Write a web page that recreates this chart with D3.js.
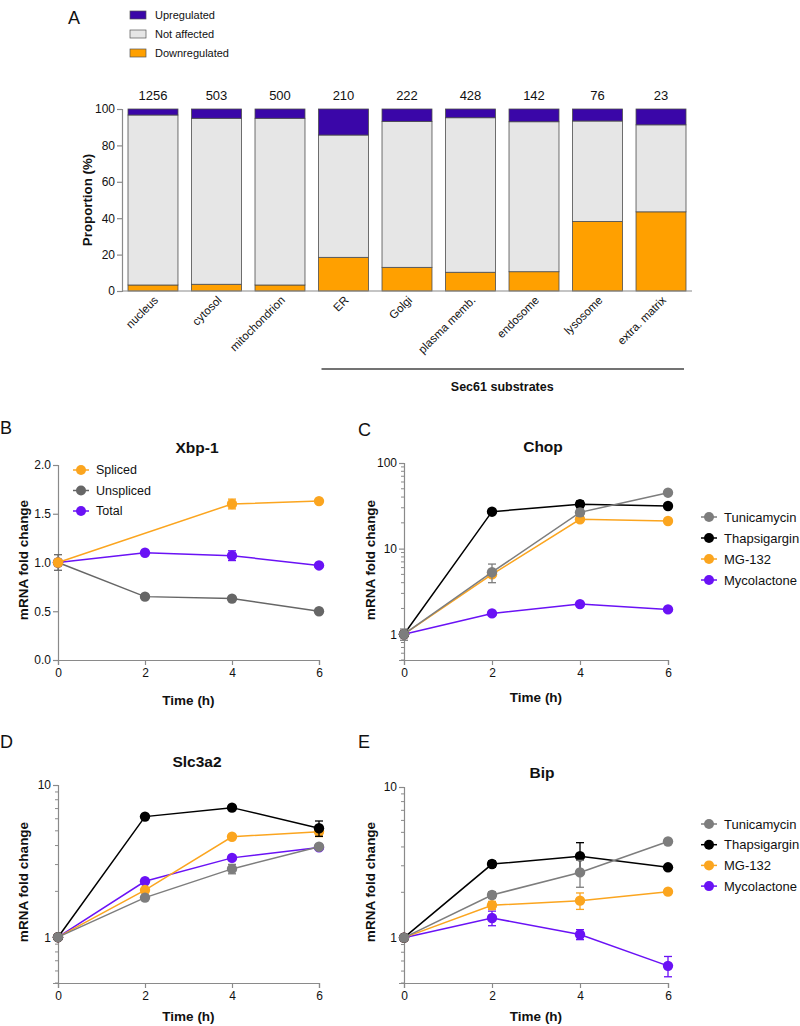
<!DOCTYPE html>
<html><head><meta charset="utf-8">
<script src="https://cdn.jsdelivr.net/npm/d3@7"></script>
<style>
body{margin:0;background:#fff}
svg{display:block}
text{font-family:"Liberation Sans",Arial,Helvetica,sans-serif;fill:#111}
</style>
</head><body>
<svg id="c" width="800" height="1026"></svg>
<script>
// ---------- Panel A data ----------
const barCategories = ["nucleus","cytosol","mitochondrion","ER","Golgi","plasma memb.","endosome","lysosome","extra. matrix"];
const barCounts = [1256,503,500,210,222,428,142,76,23];
const downPct = [3.3,3.7,3.3,18.5,13.0,10.3,10.6,38.2,43.5];
const notAffPct = [93.4,91.2,91.6,67.2,80.2,84.9,82.4,55.2,47.8];
const upPct = [3.3,5.1,5.1,14.3,6.8,4.8,7.0,6.6,8.7];
const barTicks = [0,20,40,60,80,100];
const legendA = ["Upregulated","Not affected","Downregulated"];

// ---------- Line panels data ----------
const timePoints = [0,2,4,6];
// Xbp-1
const xbpSpliced = [1.0,null,1.60,1.63];
const xbpSplicedErr = [0.0,null,0.05,0.02];
const xbpUnspliced = [1.0,0.65,0.63,0.50];
const xbpUnsplicedErr = [0.08,0.01,0.01,0.01];
const xbpTotal = [1.0,1.10,1.07,0.97];
const xbpTotalErr = [0.02,0.02,0.05,0.02];
const xbpTicks = [0,0.5,1.0,1.5,2.0];
// Chop
const chopTunicamycin = [1,5.3,26.5,45];
const chopTunicamycinErr = [0.15,1.3,2.5,1.0];
const chopThapsigargin = [1,27,33,31.5];
const chopThapsigarginErr = [0.05,1.0,3.0,1.5];
const chopMG132 = [1,5.0,22,21];
const chopMG132Err = [0.05,0.3,1.5,1.0];
const chopMycolactone = [1,1.75,2.25,1.95];
const chopMycolactoneErr = [0.02,0.05,0.05,0.05];
const chopTicks = [1,10,100];
// Slc3a2
const slcTunicamycin = [1,1.82,2.81,3.93];
const slcTunicamycinErr = [0.02,0.05,0.2,0.1];
const slcThapsigargin = [1,6.2,7.1,5.2];
const slcThapsigarginErr = [0.02,0.15,0.15,0.6];
const slcMG132 = [1,2.04,4.57,4.93];
const slcMG132Err = [0.02,0.05,0.1,0.35];
const slcMycolactone = [1,2.33,3.32,3.89];
const slcMycolactoneErr = [0.02,0.05,0.1,0.1];
// Bip
const bipTunicamycin = [1,1.92,2.71,4.35];
const bipTunicamycinErr = [0.03,0.1,0.55,0.05];
const bipThapsigargin = [1,3.08,3.47,2.93];
const bipThapsigarginErr = [0.02,0.15,0.8,0.05];
const bipMG132 = [1,1.64,1.76,2.02];
const bipMG132Err = [0.02,0.1,0.22,0.05];
const bipMycolactone = [1,1.35,1.05,0.65];
const bipMycolactoneErr = [0.02,0.15,0.08,0.1];
const decadeTicks = [1,10];
const treatments = ["Tunicamycin","Thapsigargin","MG-132","Mycolactone"];
const xbpNames = ["Spliced","Unspliced","Total"];

// ---------- colours ----------
const C_UP = "#3a06a8", C_NA = "#e6e6e6", C_DOWN = "#ffa000";
const C_ORANGE = "#fba51f", C_GRAY = "#7d7d7d", C_DGRAY = "#666666", C_BLACK = "#000000", C_PURPLE = "#6a12f5";
const AXIS = "#8a8a8a";
const FONT = '"Liberation Sans",Arial,Helvetica,sans-serif';

const svg = d3.select("#c");

function letter(t,x,y){
  svg.append("text").attr("x",x).attr("y",y).attr("font-size",18).text(t);
}

// ================= Panel A =================
letter("A",68,24);
const xA = d3.scaleBand().domain(barCategories).range([122,692]).paddingInner(0.213).paddingOuter(0.0945);
const yA = d3.scaleLinear().domain([0,100]).range([291,109]);

// legend
const legCols = [C_UP,C_NA,C_DOWN];
legendA.forEach((n,i)=>{
  const yy = 15 + i*19;
  svg.append("rect").attr("x",130).attr("y",yy-4).attr("width",16).attr("height",8)
    .attr("fill",legCols[i]).attr("stroke","#555").attr("stroke-width",0.7);
  svg.append("text").attr("x",155).attr("y",yy).attr("dy","0.35em").attr("font-size",11).text(n);
});

const barG = svg.append("g");
barCategories.forEach((c,i)=>{
  const segs = [
    {y0:0,y1:downPct[i],col:C_DOWN},
    {y0:downPct[i],y1:downPct[i]+notAffPct[i],col:C_NA},
    {y0:downPct[i]+notAffPct[i],y1:downPct[i]+notAffPct[i]+upPct[i],col:C_UP}
  ];
  segs.forEach(s=>{
    barG.append("rect").attr("x",xA(c)).attr("width",xA.bandwidth())
      .attr("y",yA(Math.min(s.y1,100))).attr("height",yA(s.y0)-yA(Math.min(s.y1,100)))
      .attr("fill",s.col).attr("stroke","#4d4d4d").attr("stroke-width",0.8);
  });
  svg.append("text").attr("x",xA(c)+xA.bandwidth()/2).attr("y",100).attr("text-anchor","middle")
    .attr("font-size",13).text(barCounts[i]);
  svg.append("text").attr("text-anchor","end").attr("font-size",11.5).attr("dy","0.35em")
    .attr("transform",`translate(${xA(c)+xA.bandwidth()/2+3},298) rotate(-45)`).text(c);
});

const axA = svg.append("g").attr("transform","translate(122,0)")
  .call(d3.axisLeft(yA).tickValues(barTicks).tickSize(5).tickPadding(2));
axA.selectAll("path,line").attr("stroke",AXIS).attr("stroke-width",1.2);
axA.selectAll("text").attr("font-size",12).attr("font-family",FONT).attr("fill","#111");
svg.append("line").attr("x1",122).attr("x2",692).attr("y1",291).attr("y2",291).attr("stroke",AXIS).attr("stroke-width",1.2);
svg.append("text").attr("transform","translate(87,200) rotate(-90)").attr("text-anchor","middle")
  .attr("dy","0.35em").attr("font-size",13.3).attr("font-weight","bold").text("Proportion (%)");

// Sec61 bracket
svg.append("line").attr("x1",xA("ER")+3).attr("x2",xA("extra. matrix")+xA.bandwidth()-2)
  .attr("y1",369).attr("y2",369).attr("stroke","#444").attr("stroke-width",1.3);
svg.append("text").attr("x",(xA("ER")+xA("extra. matrix")+xA.bandwidth())/2).attr("y",387).attr("dy","0.35em")
  .attr("text-anchor","middle").attr("font-size",12.5).attr("font-weight","bold").text("Sec61 substrates");

// ================= line panels =================
function linePanel(cfg){
  const g = svg.append("g");
  const x = d3.scaleLinear().domain([0,6]).range([cfg.x0,cfg.x1]);
  const y = cfg.log
    ? d3.scaleLog().domain(cfg.domain).range([cfg.yBottom,cfg.yTop])
    : d3.scaleLinear().domain(cfg.domain).range([cfg.yBottom,cfg.yTop]);

  // axes
  const ax = g.append("g").attr("transform",`translate(${cfg.x0},0)`)
    .call(d3.axisLeft(y).tickValues(cfg.ticks).tickSize(5).tickPadding(2)
      .tickFormat(cfg.log ? d3.format("d") : d3.format(".1f")));
  ax.selectAll("path,line").attr("stroke",AXIS).attr("stroke-width",1.2);
  ax.selectAll("text").attr("font-size",12).attr("font-family",FONT).attr("fill","#111");
  if(cfg.log){
    const minors = [];
    const lo = Math.floor(Math.log10(cfg.domain[0])), hi = Math.ceil(Math.log10(cfg.domain[1]));
    for(let e=lo;e<hi;e++){ for(let k=2;k<=9;k++){ const v=k*Math.pow(10,e); if(v>=cfg.domain[0]&&v<=cfg.domain[1]) minors.push(v);} }
    g.selectAll(null).data(minors).enter().append("line")
      .attr("x1",cfg.x0-3).attr("x2",cfg.x0).attr("y1",d=>y(d)).attr("y2",d=>y(d))
      .attr("stroke",AXIS).attr("stroke-width",1);
  }
  const axx = g.append("g").attr("transform",`translate(0,${cfg.yBottom})`)
    .call(d3.axisBottom(x).tickValues(timePoints).tickSize(5).tickPadding(3).tickFormat(d3.format("d")));
  axx.selectAll("path,line").attr("stroke",AXIS).attr("stroke-width",1.2);
  axx.selectAll("text").attr("font-size",12).attr("font-family",FONT).attr("fill","#111");

  // labels
  g.append("text").attr("x",(cfg.x0+cfg.x1)/2).attr("y",cfg.timeY).attr("dy","0.35em")
    .attr("text-anchor","middle").attr("font-size",13.5).attr("font-weight","bold").text("Time (h)");
  g.append("text").attr("transform",`translate(${cfg.ylabX},${cfg.ylabY}) rotate(-90)`).attr("text-anchor","middle")
    .attr("dy","0.35em").attr("font-size",13.5).attr("font-weight","bold").text("mRNA fold change");
  g.append("text").attr("x",cfg.titleX).attr("y",cfg.titleY).attr("dy","0.35em").attr("text-anchor","middle")
    .attr("font-size",15.5).attr("font-weight","bold").text(cfg.title);

  // series
  cfg.series.forEach(s=>{
    const pts = timePoints.map((t,i)=>({t,v:s.values[i],e:s.err[i]})).filter(p=>p.v!=null);
    g.append("path").datum(pts).attr("fill","none").attr("stroke",s.color).attr("stroke-width",1.5)
      .attr("d",d3.line().x(p=>x(p.t)).y(p=>y(p.v)));
    pts.forEach(p=>{
      if(p.e>0){
        const lo = y(p.v-p.e), hi = y(p.v+p.e);
        g.append("line").attr("x1",x(p.t)).attr("x2",x(p.t)).attr("y1",lo).attr("y2",hi).attr("stroke",s.color).attr("stroke-width",1.3);
        [lo,hi].forEach(yy=>g.append("line").attr("x1",x(p.t)-4).attr("x2",x(p.t)+4).attr("y1",yy).attr("y2",yy).attr("stroke",s.color).attr("stroke-width",1.3));
      }
      g.append("circle").attr("cx",x(p.t)).attr("cy",y(p.v)).attr("r",5.2).attr("fill",s.color);
    });
  });

  // legend
  if(cfg.legend){
    const L = cfg.legend;
    L.items.forEach((it,i)=>{
      const yy = L.y + i*L.dy;
      g.append("line").attr("x1",L.x-8).attr("x2",L.x+8).attr("y1",yy).attr("y2",yy).attr("stroke",it.color).attr("stroke-width",1.5);
      g.append("circle").attr("cx",L.x).attr("cy",yy).attr("r",5).attr("fill",it.color);
      g.append("text").attr("x",L.x+15).attr("y",yy).attr("dy","0.35em").attr("font-size",L.fs).text(it.name);
    });
  }
}

// B
letter("B",0,434);
linePanel({
  x0:58,x1:319,yTop:465,yBottom:660,log:false,domain:[0,2],ticks:xbpTicks,
  title:"Xbp-1",titleX:197,titleY:448,ylabX:23,ylabY:560,timeY:700,
  series:[
    {values:xbpTotal,err:xbpTotalErr,color:C_PURPLE},
    {values:xbpUnspliced,err:xbpUnsplicedErr,color:C_DGRAY},
    {values:xbpSpliced,err:xbpSplicedErr,color:C_ORANGE}
  ],
  legend:{x:81,y:470,dy:20.5,fs:12.5,items:[
    {name:xbpNames[0],color:C_ORANGE},{name:xbpNames[1],color:C_DGRAY},{name:xbpNames[2],color:C_PURPLE}]}
});

const legItems = [
  {name:treatments[0],color:C_GRAY},{name:treatments[1],color:C_BLACK},
  {name:treatments[2],color:C_ORANGE},{name:treatments[3],color:C_PURPLE}];

// C
letter("C",358,436);
linePanel({
  x0:404,x1:668,yTop:463,yBottom:660,log:true,domain:[0.5,100],ticks:chopTicks,
  title:"Chop",titleX:543,titleY:447,ylabX:370,ylabY:560,timeY:697,
  series:[
    {values:chopMycolactone,err:chopMycolactoneErr,color:C_PURPLE},
    {values:chopMG132,err:chopMG132Err,color:C_ORANGE},
    {values:chopThapsigargin,err:chopThapsigarginErr,color:C_BLACK},
    {values:chopTunicamycin,err:chopTunicamycinErr,color:C_GRAY}
  ],
  legend:{x:709,y:517,dy:21,fs:13,items:legItems}
});

// D
letter("D",0,748);
linePanel({
  x0:58,x1:319,yTop:785,yBottom:983,log:true,domain:[0.5,10],ticks:decadeTicks,
  title:"Slc3a2",titleX:197,titleY:762,ylabX:23,ylabY:882,timeY:1016,
  series:[
    {values:slcMycolactone,err:slcMycolactoneErr,color:C_PURPLE},
    {values:slcMG132,err:slcMG132Err,color:C_ORANGE},
    {values:slcThapsigargin,err:slcThapsigarginErr,color:C_BLACK},
    {values:slcTunicamycin,err:slcTunicamycinErr,color:C_GRAY}
  ]
});

// E
letter("E",358,748);
linePanel({
  x0:404,x1:668,yTop:787,yBottom:983,log:true,domain:[0.5,10],ticks:decadeTicks,
  title:"Bip",titleX:542,titleY:773,ylabX:370,ylabY:882,timeY:1016,
  series:[
    {values:bipMycolactone,err:bipMycolactoneErr,color:C_PURPLE},
    {values:bipMG132,err:bipMG132Err,color:C_ORANGE},
    {values:bipThapsigargin,err:bipThapsigarginErr,color:C_BLACK},
    {values:bipTunicamycin,err:bipTunicamycinErr,color:C_GRAY}
  ],
  legend:{x:709,y:824,dy:20.7,fs:13,items:legItems}
});
</script>
</body></html>
